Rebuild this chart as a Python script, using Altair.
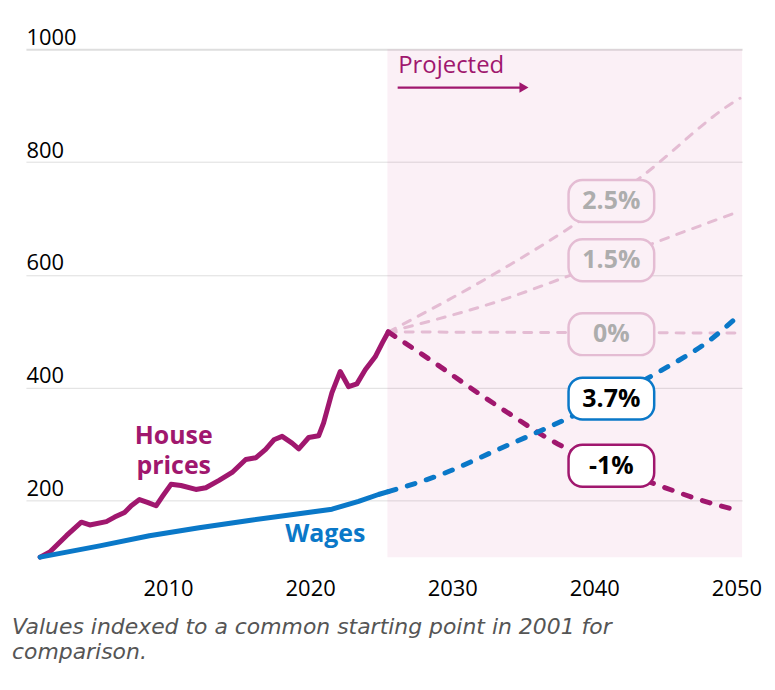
import altair as alt
import pandas as pd

MAGENTA = "#a0176e"
BLUE = "#0a78c8"
FADED = "#e4bcd3"
FADED_TEXT = "#adadad"
SHADE_FILL = "#fbf0f6"
FONT = "Open Sans"

# ---- historical series (index, 2001 = 100)
house_years = [2001.0, 2001.68, 2002.85, 2003.90, 2004.49, 2005.66, 2006.24, 2006.94,
               2007.41, 2007.99, 2008.55, 2009.16, 2009.62, 2010.21, 2010.91, 2011.96,
               2012.66, 2013.59, 2014.51, 2015.47, 2016.17, 2016.87, 2017.45, 2018.03,
               2018.73, 2019.20, 2019.90, 2020.60, 2020.95, 2021.53, 2022.12, 2022.71,
               2023.29, 2023.88, 2024.58, 2025.09, 2025.5]
house_values = [100, 109, 138, 162, 157, 163, 171, 179,
                191, 202, 197, 191, 208, 229, 227, 220,
                223, 236, 250, 273, 276, 291, 308, 314,
                302, 292, 312, 315, 338, 391, 429, 402,
                407, 432, 455, 480, 499]

wage_years = [2001.0, 2005.19, 2008.69, 2012.19, 2015.70, 2019.20, 2021.54, 2023.41, 2024.81, 2025.5]
wage_values = [100, 120, 138, 152, 165, 177, 185, 199, 211, 216]

# ---- projections
proj_25_years = [2025.5, 2032.98, 2038.82, 2043.26, 2049.92, 2050.25]
proj_25_values = [499, 602, 693, 773, 908, 913]
proj_15_years = [2025.5, 2034.15, 2037.42, 2044.66, 2050.25]
proj_15_values = [499, 561, 591, 661, 713]
proj_0_years = [2025.5, 2050.25]
proj_0_values = [499, 497]
proj_m1_years = [2025.5, 2028.78, 2031.81, 2034.15, 2036.49, 2044.66, 2048.16, 2050.25]
proj_m1_values = [499, 444, 391, 352, 314, 226, 196, 182]
wage_proj_years = [2025.5, 2029.48, 2032.98, 2036.49, 2038.82, 2044.66, 2048.16, 2050.25]
wage_proj_values = [216, 249, 288, 327, 354, 430, 485, 530]

# ---- scenario labels
label_texts = ["2.5%", "1.5%", "0%", "3.7%", "-1%"]
label_kinds = ["faded", "faded", "faded", "wages", "house"]
label_values = [731, 626, 495, 381, 262]
label_year = 2041.2

projected_start = 2025.44
x_domain = [2000, 2050.4]
y_domain = [100, 1000]
x_ticks = [2010, 2020, 2030, 2040, 2050]
y_ticks = [200, 400, 600, 800, 1000]

xs = alt.Scale(domain=x_domain, nice=False, zero=False)
ys = alt.Scale(domain=y_domain, nice=False, zero=False)

x_axis = alt.Axis(values=x_ticks, format="d", title=None, domain=False, ticks=False,
                  grid=False, labelFontSize=22, labelFont=FONT, labelColor="#000",
                  labelPadding=21, labelFlush=False)
y_axis = alt.Axis(values=y_ticks, format="d", title=None, domain=False, ticks=False, grid=True,
                  gridColor="#dedede", gridWidth=alt.ExprRef("datum.value == 1000 ? 2 : 1"),
                  labelAlign="left", labelBaseline="alphabetic", labelPadding=0,
                  labelOffset=-5, labelFontSize=22, labelFont=FONT, labelColor="#000")


def X(field="year"):
    return alt.X(f"{field}:Q", scale=xs, axis=x_axis)


def Y(field="value"):
    return alt.Y(f"{field}:Q", scale=ys, axis=y_axis)


shade_df = pd.DataFrame({"year": [projected_start], "year2": [x_domain[1]],
                         "value": [y_domain[0]], "value2": [y_domain[1]]})
shade = alt.Chart(shade_df).mark_rect(fill="#c6297e", opacity=0.07).encode(
    x=X(), x2="year2:Q", y=Y(), y2="value2:Q")

faded_df = pd.concat([
    pd.DataFrame({"year": proj_25_years, "value": proj_25_values, "scen": "2.5"}),
    pd.DataFrame({"year": proj_15_years, "value": proj_15_values, "scen": "1.5"}),
    pd.DataFrame({"year": proj_0_years, "value": proj_0_values, "scen": "0"}),
])
faded = alt.Chart(faded_df).mark_line(
    color=FADED, strokeWidth=3, strokeDash=[8, 9], strokeCap="round", interpolate="monotone"
).encode(x=X(), y=Y(), detail="scen:N")

house = alt.Chart(pd.DataFrame({"year": house_years, "value": house_values})).mark_line(
    color=MAGENTA, strokeWidth=5, strokeCap="round", strokeJoin="round").encode(x=X(), y=Y())
wages = alt.Chart(pd.DataFrame({"year": wage_years, "value": wage_values})).mark_line(
    color=BLUE, strokeWidth=5, strokeCap="round", strokeJoin="round").encode(x=X(), y=Y())

house_proj = alt.Chart(pd.DataFrame({"year": proj_m1_years, "value": proj_m1_values})).mark_line(
    color=MAGENTA, strokeWidth=5, strokeDash=[8, 12], strokeCap="round",
    interpolate="monotone").encode(x=X(), y=Y())
wage_proj = alt.Chart(pd.DataFrame({"year": wage_proj_years, "value": wage_proj_values})).mark_line(
    color=BLUE, strokeWidth=5, strokeDash=[8, 12], strokeCap="round",
    interpolate="monotone").encode(x=X(), y=Y())

labels_df = pd.DataFrame({"year": label_year, "value": label_values,
                          "label": label_texts, "kind": label_kinds})
kind_domain = ["faded", "wages", "house"]
stroke_scale = alt.Scale(domain=kind_domain, range=[FADED, BLUE, MAGENTA])
fill_scale = alt.Scale(domain=kind_domain, range=[SHADE_FILL, "#ffffff", "#ffffff"])

boxes = alt.Chart(labels_df).mark_rect(
    width=86, height=42, cornerRadius=14, strokeWidth=2.5).encode(
    x=X(), y=Y(),
    stroke=alt.Stroke("kind:N", scale=stroke_scale, legend=None),
    fill=alt.Fill("kind:N", scale=fill_scale, legend=None))
box_text_faded = alt.Chart(labels_df).transform_filter(alt.datum.kind == "faded").mark_text(
    fontSize=25, fontWeight="bold", font=FONT, baseline="middle", align="center",
    color=FADED_TEXT).encode(x=X(), y=Y(), text="label:N")
box_text_main = alt.Chart(labels_df).transform_filter(alt.datum.kind != "faded").mark_text(
    fontSize=25, fontWeight="bold", font=FONT, baseline="middle", align="center",
    color="#000000").encode(x=X(), y=Y(), text="label:N")

house_lab = alt.Chart(pd.DataFrame({"year": [2010.4, 2010.4], "value": [314, 261],
                                    "label": ["House", "prices"]})).mark_text(
    fontSize=25, fontWeight="bold", font=FONT, baseline="middle", align="center",
    color=MAGENTA).encode(x=X(), y=Y(), text="label:N")
wage_lab = alt.Chart(pd.DataFrame({"year": [2021.07], "value": [141],
                                   "label": ["Wages"]})).mark_text(
    fontSize=25, fontWeight="bold", font=FONT, baseline="middle", align="center",
    color=BLUE).encode(x=X(), y=Y(), text="label:N")

proj_text = alt.Chart(pd.DataFrame({"year": [2026.2], "value": [970], "label": ["Projected"]})).mark_text(
    fontSize=24, font=FONT, color=MAGENTA, align="left", baseline="middle").encode(
    x=X(), y=Y(), text="label:N")
arrow_line = alt.Chart(pd.DataFrame({"year": [2026.16], "year2": [2034.9], "value": [932]})).mark_rule(
    color=MAGENTA, strokeWidth=2.2).encode(x=X(), x2="year2:Q", y=Y())
arrow_head = alt.Chart(pd.DataFrame({"year": [2035.05], "value": [932]})).mark_point(
    shape="triangle-right", filled=True, color=MAGENTA, opacity=1, size=110).encode(x=X(), y=Y())

chart = alt.layer(
    shade, faded, house, wages, house_proj, wage_proj, boxes, box_text_faded, box_text_main,
    house_lab, wage_lab, proj_text, arrow_line, arrow_head
).properties(
    width=719, height=510,
    autosize=alt.AutoSizeParams(type="none"),
    padding={"left": 18, "top": 40, "right": 25, "bottom": 122},
    title=alt.TitleParams(
        text=["Values indexed to a common starting point in 2001 for", "comparison."],
        orient="bottom", anchor="start", fontSize=22, font="DejaVu Sans", fontStyle="italic",
        fontWeight="normal", color="#555555", offset=18, dx=-14, lineHeight=25),
).configure(background="white").configure_view(stroke=None)

chart.save("out.html", embed_options={"renderer": "svg", "actions": False})
